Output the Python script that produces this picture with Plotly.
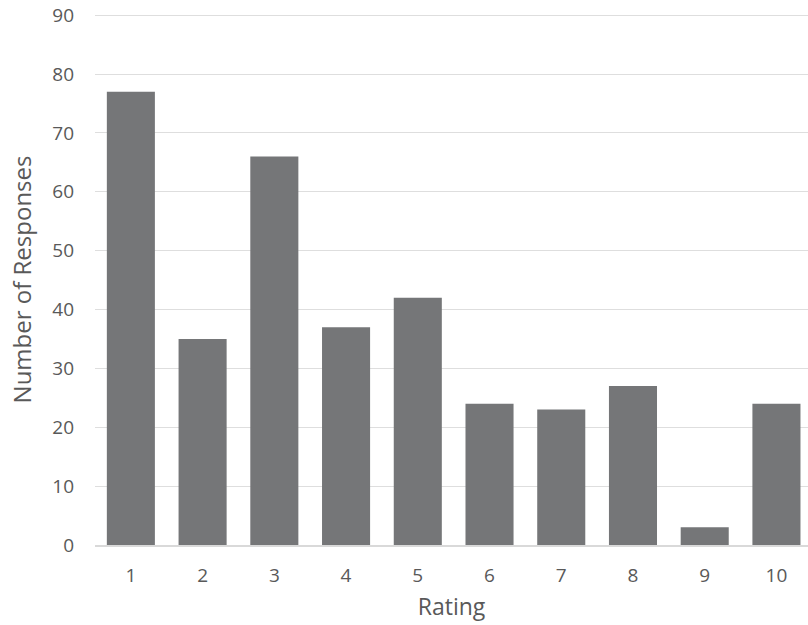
import plotly.graph_objects as go

ratings = [1, 2, 3, 4, 5, 6, 7, 8, 9, 10]
responses = [77, 35, 66, 37, 42, 24, 23, 27, 3, 24]
y_ticks = [0, 10, 20, 30, 40, 50, 60, 70, 80, 90]

fig = go.Figure(go.Bar(
    x=ratings, y=responses, width=0.67,
    marker=dict(color="#757678", line=dict(width=0)),
))

font_fam = "Open Sans, sans-serif"
fig.update_layout(
    width=808, height=625,
    margin=dict(l=95, r=0, t=14, b=80, autoexpand=False),
    paper_bgcolor="white", plot_bgcolor="white",
    showlegend=False,
    font=dict(family=font_fam, color="#595959", size=19),
    xaxis=dict(
        range=[0.5, 10.44], tickmode="array", tickvals=ratings,
        ticktext=[str(r) for r in ratings],
        tickfont=dict(size=19), automargin=False,
        showgrid=False, showline=True, linecolor="#d9d9d9", linewidth=1.5,
        ticks="", ticklabelstandoff=12,
        title=dict(text="Rating", font=dict(size=23), standoff=12),
    ),
    yaxis=dict(
        range=[0, 90.2], tickvals=y_ticks, automargin=False,
        tickfont=dict(size=19), ticklabeloverflow="allow",
        showgrid=True, gridcolor="#dedede", gridwidth=1.3,
        zeroline=False, showline=False, ticks="", ticklabelstandoff=20,
        title=dict(text="Number of Responses", font=dict(size=24), standoff=13),
    ),
)

fig.write_html(
    "out.html",
    config={"displayModeBar": False},
    post_script="document.body.style.margin='0';document.body.style.overflow='hidden';",
)
